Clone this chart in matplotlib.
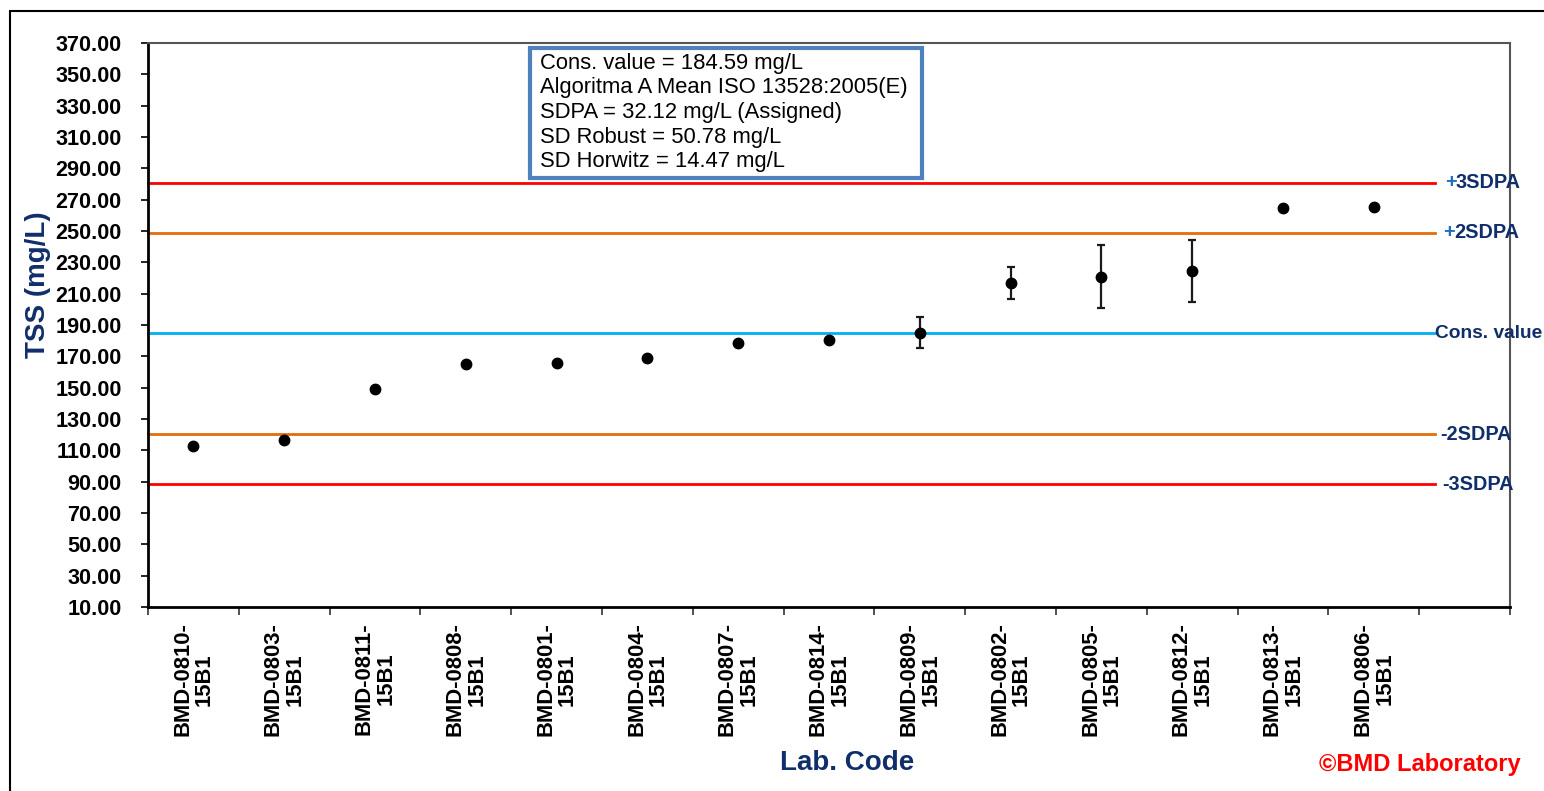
import matplotlib
matplotlib.use("Agg")
import matplotlib.pyplot as plt
from matplotlib.patches import Rectangle
import numpy as np

plt.rcParams['font.family'] = ['Liberation Sans', 'DejaVu Sans']

# ---- data ----
lab_codes = ["BMD-0810-\n15B1", "BMD-0803-\n15B1", "BMD-0811-\n15B1", "BMD-0808-\n15B1",
             "BMD-0801-\n15B1", "BMD-0804-\n15B1", "BMD-0807-\n15B1", "BMD-0814-\n15B1",
             "BMD-0809-\n15B1", "BMD-0802-\n15B1", "BMD-0805-\n15B1", "BMD-0812-\n15B1",
             "BMD-0813-\n15B1", "BMD-0806-\n15B1", ""]
tss_values = [112.8, 116.5, 148.9, 164.8, 165.5, 169.0, 178.6, 180.7,
              185.2, 216.8, 220.8, 224.5, 264.6, 265.6]
tss_errors = [0, 0, 0, 0, 0, 0, 0, 0, 10.0, 10.0, 20.0, 20.0, 0, 0]
cons_value = 184.59
sdpa = 32.12
sd_robust = 50.78
sd_horwitz = 14.47
y_ticks = np.arange(10, 371, 20)
info_lines = [f"Cons. value = {cons_value:.2f} mg/L",
              "Algoritma A Mean ISO 13528:2005(E)",
              f"SDPA = {sdpa:.2f} mg/L (Assigned)",
              f"SD Robust = {sd_robust:.2f} mg/L",
              f"SD Horwitz = {sd_horwitz:.2f} mg/L"]

W, H = 1544, 791
fig = plt.figure(figsize=(W / 100, H / 100), dpi=100)
ax = fig.add_axes([148 / W, 1 - 607 / H, (1510 - 148) / W, (607 - 43) / H])

navy = '#102E6A'
x = np.arange(len(lab_codes))
n_pts = len(tss_values)

# reference lines
line_end = 13.67
ref = [(cons_value + 3 * sdpa, '#FF0000'), (cons_value + 2 * sdpa, '#E46C0A'),
       (cons_value, '#00B0F0'), (cons_value - 2 * sdpa, '#E46C0A'),
       (cons_value - 3 * sdpa, '#FF0000')]
for val, col in ref:
    ax.plot([-0.5, line_end], [val, val], color=col, lw=2, zorder=2, clip_on=False)

# points with error bars
err = np.array(tss_errors, dtype=float)
ax.errorbar(x[:n_pts], tss_values, yerr=np.where(err > 0, err, np.nan), fmt='o',
            color='black', ecolor='#1a1a1a', elinewidth=1.6, capsize=3.2, capthick=1.6,
            markersize=7.5, zorder=4)

ax.set_xlim(-0.5, len(lab_codes) - 0.5)
ax.set_ylim(10, 370)
ax.set_yticks(y_ticks)
ax.set_yticklabels([f"{v:.2f}" for v in y_ticks], fontsize=15.6, fontweight='bold')
ax.tick_params(axis='y', direction='out', length=5, width=1.2, pad=14, color='black')

ax.set_xticks(x)
ax.set_xticklabels(lab_codes, rotation=90, fontsize=15.8, fontweight='bold', linespacing=1.05)
for lbl in ax.get_xticklabels():
    lbl.set_multialignment('center')
ax.tick_params(axis='x', which='major', length=0, pad=11)
ax.set_xticks(np.arange(-0.5, len(lab_codes), 1), minor=True)
ax.tick_params(axis='x', which='minor', length=6, width=1.2, direction='out', color='#333333')

for side in ['left', 'bottom']:
    ax.spines[side].set_color('black')
    ax.spines[side].set_linewidth(2)
for side in ['top', 'right']:
    ax.spines[side].set_color('#555555')
    ax.spines[side].set_linewidth(1.5)

# right-side labels
lbl_specs = [(cons_value + 3 * sdpa, '+', '3SDPA', 1445, 14.3),
             (cons_value + 2 * sdpa, '+', '2SDPA', 1443, 14.3),
             (cons_value, '', 'Cons. value', 1435, 13.8),
             (cons_value - 2 * sdpa, '', '-2SDPA', 1440, 14.3),
             (cons_value - 3 * sdpa, '', '-3SDPA', 1442, 14.3)]
for val, plus, rest, px, fs in lbl_specs:
    ypx = ax.transData.transform((0, val))[1]
    yf = ypx / H
    if plus:
        fig.text(px / W, yf, plus, color='#1F6FC0', fontsize=fs, fontweight='bold',
                 ha='left', va='center')
        fig.text((px + 11) / W, yf, rest, color=navy, fontsize=fs, fontweight='bold',
                 ha='left', va='center')
    else:
        fig.text(px / W, yf, rest, color=navy, fontsize=fs, fontweight='bold',
                 ha='left', va='center')

# info box
fig.patches.append(Rectangle((530 / W, 1 - 178 / H), (922 - 530) / W, (178 - 48) / H,
                             transform=fig.transFigure, fill=True, facecolor='white',
                             edgecolor='#4F81BD', linewidth=3, zorder=5))
for i, t in enumerate(info_lines):
    fig.text(540 / W, 1 - (63 + i * 24.7) / H, t, fontsize=15.8, color='black',
             ha='left', va='center', zorder=6)

# axis titles
fig.text(38 / W, 1 - 285 / H, "TSS (mg/L)", rotation=90, fontsize=20, fontweight='bold',
         color=navy, ha='center', va='center')
fig.text(847 / W, 1 - 763 / H, "Lab. Code", fontsize=20, fontweight='bold',
         color=navy, ha='center', va='center')
fig.text(1420 / W, 1 - 765 / H, "\u00a9BMD Laboratory", fontsize=17, fontweight='bold',
         color='#FF0000', ha='center', va='center')

# outer border
fig.patches.append(Rectangle((9.5 / W, -0.05), 1.2, 1 - 10.5 / H + 0.05,
                             transform=fig.transFigure, fill=False, edgecolor='black',
                             linewidth=1.5, zorder=0))

fig.savefig("out.png", dpi=100)
